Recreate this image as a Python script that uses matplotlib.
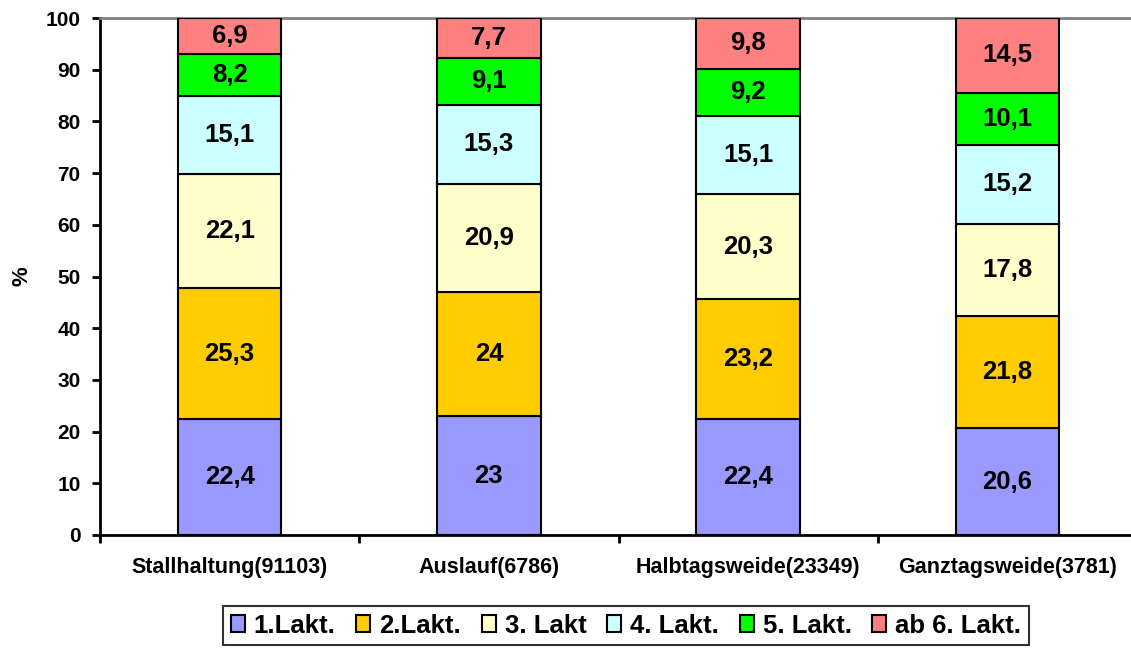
import matplotlib.pyplot as plt
import numpy as np

plt.rcParams['font.family'] = ['Liberation Sans', 'DejaVu Sans']
plt.rcParams['font.weight'] = 'bold'

categories = ["Stallhaltung(91103)", "Auslauf(6786)", "Halbtagsweide(23349)", "Ganztagsweide(3781)"]
series_names = ["1.Lakt.", "2.Lakt.", "3. Lakt", "4. Lakt.", "5. Lakt.", "ab 6. Lakt."]
lakt1 = [22.4, 23, 22.4, 20.6]
lakt2 = [25.3, 24, 23.2, 21.8]
lakt3 = [22.1, 20.9, 20.3, 17.8]
lakt4 = [15.1, 15.3, 15.1, 15.2]
lakt5 = [8.2, 9.1, 9.2, 10.1]
lakt6 = [6.9, 7.7, 9.8, 14.5]
colors = ["#9999FF", "#FFCC00", "#FFFFCC", "#CCFFFF", "#00FF00", "#FF8080"]

series = [lakt1, lakt2, lakt3, lakt4, lakt5, lakt6]

fig = plt.figure(figsize=(11.31, 6.48), dpi=100)
ax = fig.add_axes([100 / 1131, 1 - 535 / 648, 1037 / 1131, 517 / 648])

x = np.arange(len(categories))
bottom = np.zeros(len(categories))
for vals, name, col in zip(series, series_names, colors):
    vals = np.array(vals)
    ax.bar(x, vals, width=0.4, bottom=bottom, color=col, edgecolor="black",
           linewidth=1.5, label=name, zorder=3)
    for xi, b, v in zip(x, bottom, vals):
        txt = ("%g" % v).replace(".", ",")
        ax.text(xi, b + v / 2, txt, ha="center", va="center",
                fontsize=18.5, fontweight="bold", zorder=4)
    bottom += vals

ax.set_xlim(-0.5, 3.5)
ax.set_ylim(0, 100)
ax.set_yticks(range(0, 101, 10))
ax.set_xticks(np.arange(-0.5, 4, 1))
ax.set_xticklabels([])
ax.set_xticks(x, minor=True)
ax.set_xticklabels(categories, minor=True, fontsize=15.5, fontweight="bold")
ax.tick_params(axis="x", which="minor", length=0, pad=16)
ax.tick_params(axis="x", which="major", length=6, width=2, direction="out")
ax.tick_params(axis="y", length=6, width=2, direction="out", labelsize=15, pad=8)
for lbl in ax.get_yticklabels():
    lbl.set_fontweight("bold")

ax.spines["left"].set_linewidth(2)
ax.spines["bottom"].set_linewidth(2)
ax.spines["top"].set_color("#808080")
ax.spines["top"].set_linewidth(2)
ax.spines["right"].set_visible(False)

ax.set_ylabel("%", fontsize=16, fontweight="bold")
ax.yaxis.set_label_coords(-0.065, 0.5)

leg = fig.legend(loc="upper center", bbox_to_anchor=(626 / 1131, 1 - 606 / 648),
                 ncol=6, fontsize=18.5, frameon=True, fancybox=False,
                 handlelength=0.55, handleheight=0.65, handletextpad=0.35,
                 columnspacing=0.8, borderpad=0.3, borderaxespad=0)
leg.get_frame().set_edgecolor("black")
leg.get_frame().set_linewidth(1.5)
for t in leg.get_texts():
    t.set_fontweight("bold")

fig.savefig("out.png", dpi=100)
